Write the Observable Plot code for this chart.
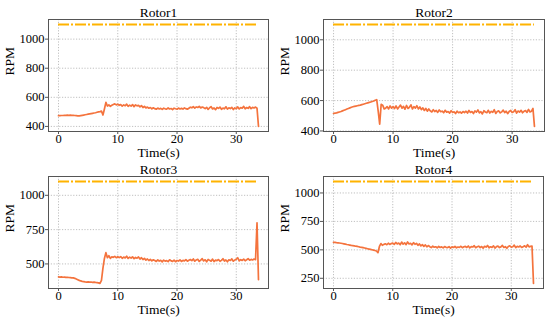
<!DOCTYPE html>
<html>
<head>
<meta charset="utf-8">
<script src="https://cdn.jsdelivr.net/npm/d3@7"></script>
<script src="https://cdn.jsdelivr.net/npm/@observablehq/plot@0.6"></script>
<style>
  html, body { margin: 0; padding: 0; background: #fff; }
  #wrap { position: relative; width: 550px; height: 325px; overflow: hidden; }
  #wrap > svg { position: absolute; }
</style>
</head>
<body>
<div id="wrap"></div>
<script>
// ---- data ----
const time = [
  0,0.25,0.5,0.75,1,1.25,1.5,1.75,2,2.25,2.5,2.75,3,3.25,3.5,3.75,4,4.25,4.5,4.75,
  5,5.25,5.5,5.75,6,6.25,6.5,6.75,7,7.25,7.5,7.75,8,8.25,8.5,8.75,9,9.25,9.5,9.75,
  10,10.25,10.5,10.75,11,11.25,11.5,11.75,12,12.25,12.5,12.75,13,13.25,13.5,13.75,
  14,14.25,14.5,14.75,15,15.25,15.5,15.75,16,16.25,16.5,16.75,17,17.25,17.5,17.75,
  18,18.25,18.5,18.75,19,19.25,19.5,19.75,20,20.25,20.5,20.75,21,21.25,21.5,21.75,
  22,22.25,22.5,22.75,23,23.25,23.5,23.75,24,24.25,24.5,24.75,25,25.25,25.5,25.75,
  26,26.25,26.5,26.75,27,27.25,27.5,27.75,28,28.25,28.5,28.75,29,29.25,29.5,29.75,
  30,30.25,30.5,30.75,31,31.25,31.5,31.75,32,32.25,32.5,32.75,33,33.25,33.5,33.75
];

const rotor1 = [
  474,474,475,475,476,476,477,476,477,476,476,475,474,473,472,
  474,476,478,480,482,484,486,488,490,492,494,497,500,502,
  505,478,520,565,540,548,538,545,550,555,548,552,
  545,550,540,548,542,553,538,546,540,550,536,548,541,545,535,543,
  530,538,527,533,525,530,520,528,
  522,518,526,520,524,517,525,521,519,527,520,523,516,525,521,518,526,520,524,519,527,522,518,525,
  532,528,536,526,534,530,538,527,533,529,
  522,531,517,528,536,520,527,515,530,524,533,518,526,521,535,519,528,523,531,516,
  527,522,534,520,529,525,538,521,530,524,536,522,531,527,533,525,
  400
];

const rotor2 = [
  515,517,519,522,525,528,532,536,540,544,548,552,556,559,562,564,566,568,570,573,
  576,579,582,585,588,591,594,597,602,
  606,530,445,575,570,545,550,560,545,565,550,560,
  548,565,545,558,570,550,562,543,568,548,556,572,545,560,550,566,
  545,558,540,552,535,548,530,545,
  532,525,540,528,535,522,538,527,530,520,536,524,528,518,533,522,526,515,530,520,525,517,528,521,
  530,518,535,522,528,515,532,524,538,519,527,512,533,525,520,536,518,529,523,540,
  515,528,532,519,526,537,521,530,514,528,535,522,527,540,518,531,524,536,520,529,
  534,522,542,525,530,548,
  430
];

const rotor3 = [
  405,404,405,403,404,402,403,401,400,399,398,395,390,385,380,376,373,371,369,368,
  369,367,368,366,367,365,364,362,358,
  380,470,540,582,545,560,540,552,548,555,545,552,
  546,553,541,550,544,556,540,549,543,552,538,547,542,551,536,545,
  532,540,528,536,525,533,522,530,
  525,518,529,521,526,515,528,520,524,517,530,522,519,527,516,525,521,529,518,526,522,531,520,527,
  532,524,536,520,529,534,518,527,538,522,530,515,533,526,520,535,517,528,524,532,
  519,526,538,521,529,516,530,525,537,520,528,534,545,522,531,526,535,523,530,538,
  527,533,529,536,531,800,
  385
];

const rotor4 = [
  566,565,563,562,560,558,556,553,550,547,545,542,539,537,535,532,530,527,524,522,
  519,516,513,510,507,504,501,498,494,
  490,475,530,555,540,548,553,545,558,548,555,560,
  548,565,552,560,545,568,550,562,546,570,552,558,544,563,549,557,
  540,552,535,546,530,543,527,538,
  528,520,532,523,527,518,530,521,526,517,529,522,520,528,515,526,521,530,518,525,522,531,519,527,
  530,521,534,517,528,525,536,519,527,532,520,529,515,531,524,538,518,527,522,535,
  516,529,533,520,526,539,521,528,514,530,536,523,527,542,519,531,525,534,521,528,
  535,523,545,526,530,532,
  205
];

const titles = ["Rotor1", "Rotor2", "Rotor3", "Rotor4"];
const series = [rotor1, rotor2, rotor3, rotor4];
const yTicks = [
  [400, 600, 800, 1000],
  [400, 600, 800, 1000],
  [500, 750, 1000],
  [250, 500, 750, 1000]
];
const xTicks = [0, 10, 20, 30];
const limit = 1100;

// ---- layout ----
const positions = [
  {left: 0, top: 0, marginRight: 7},
  {left: 275, top: 0, marginRight: 6},
  {left: 0, top: 157, marginRight: 7},
  {left: 275, top: 157, marginRight: 7}
];

const font = "'Liberation Serif', 'Times New Roman', Times, serif";
const lineColor = "#f4733d";
const limitColor = "#ffb300";
const gridStyle = {stroke: "#b0b0b0", strokeOpacity: 1, strokeWidth: 0.8, strokeDasharray: "1.2,1.6"};

function pad(ext) {
  const m = (ext[1] - ext[0]) * 0.05;
  return [ext[0] - m, ext[1] + m];
}

const xDomain = pad(d3.extent(time));
const wrap = document.getElementById("wrap");
const fmt = d => String(d);

series.forEach((vals, k) => {
  const data = time.map((t, i) => ({t, v: vals[i]})).filter(d => d.v !== undefined);
  const yDomain = pad(d3.extent([...vals, limit]));
  const pos = positions[k];
  const chart = Plot.plot({
    width: 275,
    height: 160,
    marginLeft: 48,
    marginRight: pos.marginRight,
    marginTop: 19,
    marginBottom: 29,
    style: {fontFamily: font, fontSize: "13px", color: "#000", background: "transparent", overflow: "visible"},
    x: {domain: xDomain, label: null},
    y: {domain: yDomain, label: null},
    marks: [
      Plot.gridX(xTicks, gridStyle),
      Plot.gridY(yTicks[k], gridStyle),
      Plot.ruleY([limit], {x1: d3.min(time), x2: d3.max(time), stroke: limitColor, strokeWidth: 2, strokeDasharray: "11,2,2,2"}),
      Plot.line(data, {x: "t", y: "v", stroke: lineColor, strokeWidth: 1.7}),
      Plot.frame({stroke: "#555", strokeWidth: 1}),
      Plot.axisX(xTicks, {tickSize: 3, tickPadding: 0, fontSize: 12.5, label: null, stroke: "#555", tickFormat: fmt}),
      Plot.axisY(yTicks[k], {tickSize: 3, tickPadding: 1, fontSize: 12.5, label: null, stroke: "#555", tickFormat: fmt}),
      Plot.text([titles[k]], {frameAnchor: "top", lineAnchor: "middle", dy: -7, fontSize: 13.5, fill: "#000"}),
      Plot.text(["Time(s)"], {frameAnchor: "bottom", lineAnchor: "middle", dy: 21.5, fontSize: 13.5, fill: "#000"}),
      Plot.text(["RPM"], {frameAnchor: "left", lineAnchor: "middle", dx: -39, rotate: -90, fontSize: 13.5, fill: "#000"})
    ]
  });
  chart.style.left = pos.left + "px";
  chart.style.top = pos.top + "px";
  wrap.appendChild(chart);
});
</script>
</body>
</html>
